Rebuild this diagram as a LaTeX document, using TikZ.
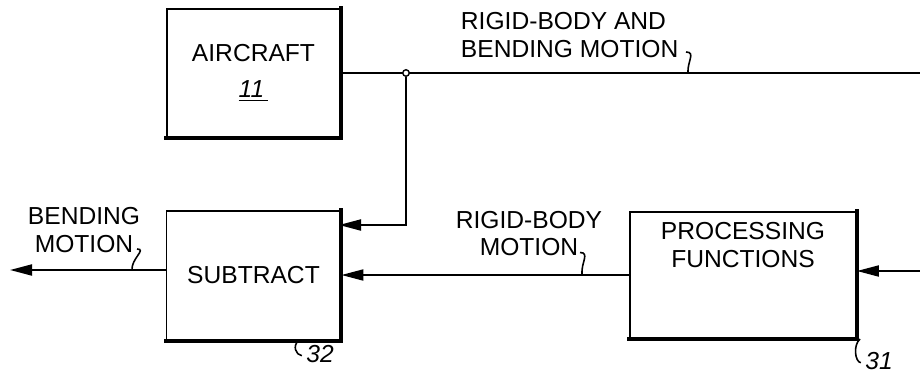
\documentclass[tikz,border=0pt]{standalone}
\usepackage{fontspec}
\setmainfont{Liberation Sans}
\usepackage{tikz}
\usetikzlibrary{arrows.meta,positioning}

\begin{document}
\begin{tikzpicture}[every node/.style={font=\fontsize{14}{15.5}\selectfont}, box/.style={draw,line width=1pt,inner sep=0pt,align=center}, edge/.style={line width=2.4pt,line cap=rect}, lead/.style={line width=0.9pt}, >={Triangle[length=4.4mm,width=2.2mm]}, line width=1.1pt]
\useasboundingbox (0,0) rectangle (18.4,-7.48);
\node[box,minimum width=3.46cm,minimum height=2.56cm] (air) at (5.07,-1.46) {AIRCRAFT\\[5pt]\underline{\itshape 11\,}};
\node[box,minimum width=3.48cm,minimum height=2.58cm,below=1.44cm of air.south,anchor=north] (sub) {SUBTRACT};
\node[box,minimum width=4.52cm,minimum height=2.52cm] (proc) at (14.86,-5.5) {};
\node[align=center] (proctxt) at ([yshift=0.6cm]proc.center) {PROCESSING\\FUNCTIONS};
\foreach \b in {air,sub,proc} \draw[edge] (\b.north east) -- (\b.south east) -- (\b.south west);
% signal lines
\coordinate (topend) at (18.4,-1.46);
\coordinate (subin) at (6.78,-4.5);
\coordinate (procin) at (18.4,-5.42);
\coordinate (out) at (0.2,-5.4);
\draw (air.east) -- (topend);
\node[circle,draw,fill=white,inner sep=0pt,minimum size=1.3mm,line width=0.8pt] (j) at (8.12,-1.46) {};
\draw[->] (j) |- (subin);
\draw[->] (proc.west) -- (sub.east |- proc.west);
\draw[->] (procin) -- (proc.east |- procin);
\draw[->] (sub.west |- out) -- (out);
% labels
\node[align=left,anchor=west,inner sep=0pt] (toplab) at (9.2,-0.7) {RIGID-BODY AND\\BENDING MOTION};
\node[align=center,inner sep=0pt] (bendlab) at (1.68,-4.6) {BENDING\\MOTION};
\node[align=center,inner sep=0pt] (riglab) at (10.58,-4.67) {RIGID-BODY\\MOTION};
\node[inner sep=0pt] (n32) at (6.4,-7.08) {\itshape 32};
\node[inner sep=0pt] (n31) at (17.58,-7.22) {\itshape 31};
\coordinate (s1) at (13.72,-1.04); \coordinate (t1) at (13.76,-1.46);
\coordinate (s2) at (2.74,-4.98);  \coordinate (t2) at (2.64,-5.4);
\coordinate (s3) at (11.6,-5.05);  \coordinate (t3) at (11.64,-5.48);
\coordinate (t4) at (5.98,-6.8);
\coordinate (t5) at (17.2,-6.78);
\draw[lead] (s1) .. controls +(0.2,0) and +(-0.02,0.22) .. (t1);
\draw[lead] (s2) .. controls +(0.2,0) and +(-0.02,0.22) .. (t2);
\draw[lead] (s3) .. controls +(0.2,0) and +(-0.02,0.22) .. (t3);
\draw[lead] (t4) .. controls +(-0.14,-0.12) and +(-0.12,0.02) .. ([xshift=-2pt,yshift=-1pt]n32.west);
\draw[lead] (t5) .. controls +(-0.14,-0.12) and +(-0.12,0.02) .. ([xshift=-2pt,yshift=-1pt]n31.west);
\end{tikzpicture}
\end{document}
